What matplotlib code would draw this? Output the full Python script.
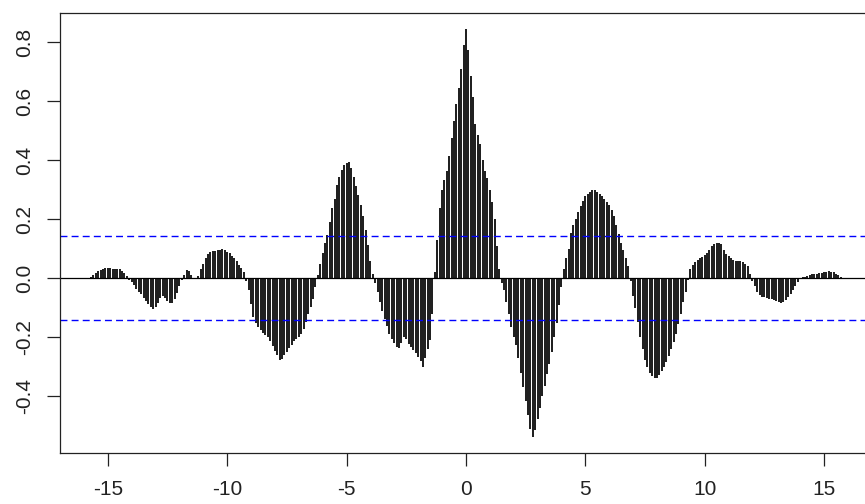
import numpy as np
import matplotlib
matplotlib.use('Agg')
import matplotlib.pyplot as plt

plt.rcParams['font.family'] = ['Liberation Sans', 'DejaVu Sans']
plt.rcParams['axes.unicode_minus'] = False

# lags at 0.1 steps, -15.7 .. 15.7
lags = np.round(np.arange(-157, 158) / 10.0, 1)

# cross-correlation, one row per unit of lag
ccf_values = [
    0.004, 0.010, 0.017, 0.024, 0.028, 0.031, 0.034,                               # -15.7 .. -15.1
    0.034, 0.034, 0.033, 0.032, 0.032, 0.030, 0.026, 0.019, 0.008, -0.005,           # -15.0 .. -14.1
    -0.014, -0.024, -0.035, -0.045, -0.055, -0.066, -0.077, -0.088, -0.097, -0.103,  # -14.0 .. -13.1
    -0.097, -0.084, -0.066, -0.060, -0.068, -0.077, -0.083, -0.085, -0.072, -0.050,  # -13.0 .. -12.1
    -0.025, -0.006, 0.012, 0.029, 0.025, 0.010, 0.002, -0.003, 0.008, 0.030,         # -12.0 .. -11.1
    0.047, 0.070, 0.082, 0.088, 0.091, 0.093, 0.095, 0.097, 0.099, 0.095,            # -11.0 .. -10.1
    0.090, 0.084, 0.076, 0.067, 0.057, 0.046, 0.036, 0.022, -0.010, -0.040,          # -10.0 .. -9.1
    -0.088, -0.132, -0.152, -0.166, -0.177, -0.185, -0.193, -0.200, -0.214, -0.230,  # -9.0 .. -8.1
    -0.247, -0.262, -0.277, -0.275, -0.262, -0.250, -0.238, -0.225, -0.212, -0.205,  # -8.0 .. -7.1
    -0.200, -0.190, -0.172, -0.150, -0.122, -0.098, -0.072, -0.030, 0.010, 0.050,    # -7.0 .. -6.1
    0.086, 0.118, 0.148, 0.190, 0.240, 0.270, 0.318, 0.345, 0.366, 0.383,            # -6.0 .. -5.1
    0.390, 0.393, 0.375, 0.342, 0.312, 0.284, 0.250, 0.210, 0.165, 0.112,            # -5.0 .. -4.1
    0.060, 0.015, -0.015, -0.045, -0.080, -0.110, -0.138, -0.162, -0.188, -0.206,    # -4.0 .. -3.1
    -0.220, -0.232, -0.237, -0.220, -0.200, -0.205, -0.222, -0.235, -0.245, -0.255,  # -3.0 .. -2.1
    -0.266, -0.282, -0.300, -0.270, -0.240, -0.210, -0.120, 0.020, 0.130, 0.240,     # -2.0 .. -1.1
    0.300, 0.335, 0.365, 0.415, 0.475, 0.535, 0.590, 0.645, 0.710, 0.790,            # -1.0 .. -0.1
    0.846,                                                                           # 0.0
    0.776, 0.685, 0.615, 0.525, 0.486, 0.455, 0.400, 0.365, 0.340, 0.300,            # 0.1 .. 1.0
    0.260, 0.200, 0.110, 0.030, -0.015, -0.040, -0.080, -0.120, -0.165, -0.200,      # 1.1 .. 2.0
    -0.228, -0.270, -0.320, -0.370, -0.415, -0.465, -0.510, -0.537, -0.515, -0.478,  # 2.1 .. 3.0
    -0.440, -0.400, -0.365, -0.325, -0.290, -0.250, -0.200, -0.152, -0.090, -0.030,  # 3.1 .. 4.0
    0.030, 0.070, 0.100, 0.155, 0.180, 0.200, 0.225, 0.245, 0.262, 0.278,            # 4.1 .. 5.0
    0.287, 0.294, 0.298, 0.298, 0.292, 0.285, 0.278, 0.270, 0.260, 0.248,            # 5.1 .. 6.0
    0.230, 0.212, 0.180, 0.150, 0.120, 0.095, 0.070, 0.040, -0.010, -0.060,          # 6.1 .. 7.0
    -0.100, -0.150, -0.200, -0.240, -0.277, -0.300, -0.320, -0.332, -0.338, -0.339,  # 7.1 .. 8.0
    -0.328, -0.315, -0.302, -0.283, -0.263, -0.240, -0.215, -0.190, -0.155, -0.120,  # 8.1 .. 9.0
    -0.080, -0.045, -0.005, 0.030, 0.045, 0.055, 0.063, 0.069, 0.073, 0.078,         # 9.1 .. 10.0
    0.085, 0.095, 0.108, 0.115, 0.120, 0.120, 0.115, 0.095, 0.082, 0.075,            # 10.1 .. 11.0
    0.068, 0.063, 0.060, 0.058, 0.057, 0.055, 0.050, 0.040, 0.015, -0.010,           # 11.1 .. 12.0
    -0.028, -0.045, -0.056, -0.062, -0.065, -0.067, -0.069, -0.071, -0.074, -0.078,  # 12.1 .. 13.0
    -0.082, -0.084, -0.080, -0.074, -0.065, -0.052, -0.040, -0.028, -0.013, -0.002,  # 13.1 .. 14.0
    0.003, 0.005, 0.007, 0.012, 0.013, 0.014, 0.015, 0.017, 0.019, 0.020,            # 14.1 .. 15.0
    0.022, 0.023, 0.022, 0.020, 0.015, 0.010, 0.004,                                 # 15.1 .. 15.7
]

ci_bound = 0.142
x_ticks = [-15, -10, -5, 0, 5, 10, 15]
y_ticks = [-0.4, -0.2, 0.0, 0.2, 0.4, 0.6, 0.8]

W, H = 865, 504
fig = plt.figure(figsize=(W / 100, H / 100), dpi=100)
# the right edge of the box falls just outside the picture, as in the original
ax = fig.add_axes([60 / W, 1 - 453.3 / H, (871.8 - 60) / W, (453.3 - 13) / H])

ax.vlines(lags, 0, ccf_values, colors='black', linewidth=1.25)
ax.axhline(0, color='black', linewidth=0.9)
for b in (ci_bound, -ci_bound):
    ax.axhline(b, color='#0000ff', linewidth=1.0, linestyle=(0, (5, 3)))

ax.set_xlim(-17.0, 17.0)
ax.set_ylim(-0.594, 0.900)
ax.set_xticks(x_ticks)
ax.set_xticklabels([str(t) for t in x_ticks])
ax.set_yticks(y_ticks)
ax.set_yticklabels(['%.1f' % t for t in y_ticks], rotation=90, va='center')
ax.tick_params(axis='both', direction='out', length=9.5, width=0.9, labelsize=15,
               colors='#222222')
ax.tick_params(axis='x', pad=10)
ax.tick_params(axis='y', pad=9)
for s in ax.spines.values():
    s.set_linewidth(0.9)
    s.set_color('#222222')

fig.savefig('out.png', dpi=100)
